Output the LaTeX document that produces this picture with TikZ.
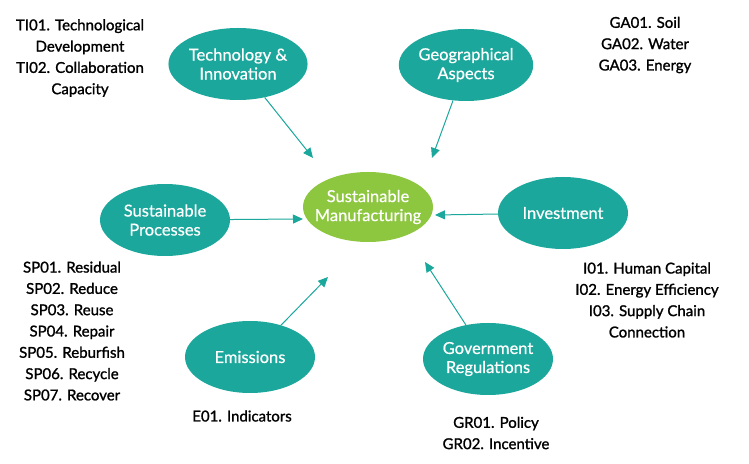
\documentclass[tikz,border=0pt]{standalone}
\usepackage{fontspec}
\setmainfont{Lato}
\newfontfamily\labfont{Lato}[RawFeature={embolden=1.3}]
\newfontfamily\bubfont{Lato}[RawFeature={embolden=0.6}]
\usetikzlibrary{shapes.geometric,arrows.meta}
\definecolor{teal1}{HTML}{1BA79B}
\definecolor{green1}{HTML}{8DC63F}
\begin{document}
\begin{tikzpicture}[x=1pt,y=1pt,
  bub/.style={ellipse,fill=teal1,draw=none,minimum width=130pt,minimum height=72pt,text=white,align=center,font=\bubfont\fontsize{16.5}{19}\selectfont,inner sep=0pt},
  lab/.style={align=center,font=\labfont\fontsize{15}{21.3}\selectfont,text=black,inner sep=0pt},
  arr/.style={draw=teal1,line width=1pt,-{Triangle[length=10pt,width=9pt]}}]
\useasboundingbox (0,0) rectangle (749,463);
\node[bub,fill=green1,minimum height=70pt,inner sep=-9pt] (sm) at (368,256) {Sustainable\\Manufacturing};
\node[bub] (ti) at (238,399) {Technology \&\\Innovation};
\node[bub] (ga) at (466,398) {Geographical\\Aspects};
\node[bub] (sp) at (165,243) {Sustainable\\Processes};
\node[bub] (inv) at (563,250) {Investment};
\node[bub] (em) at (250,106) {Emissions};
\node[bub] (gr) at (488,104) {Government\\Regulations};
\coordinate (tTI) at (313,305);
\coordinate (tGA) at (432,305);
\coordinate (tSP) at (303,244);
\coordinate (tIN) at (435,248);
\coordinate (tEM) at (328,186);
\coordinate (tGR) at (425,201);
\draw[arr] (ti) -- (tTI);
\draw[arr] (ga) -- (tGA);
\draw[arr] (sp) -- (tSP);
\draw[arr] (inv) -- (tIN);
\draw[arr] (em) -- (tEM);
\draw[arr] (gr) -- (tGR);
\node[lab] (tiL) at (80,405) {TI01. Technological\\Development\\TI02. Collaboration\\Capacity};
\node[lab] (gaL) at (645,418) {GA01. Soil\\GA02. Water\\GA03. Energy};
\node[lab] (spL) at (72,132) {SP01. Residual\\SP02. Reduce\\SP03. Reuse\\SP04. Repair\\SP05. Reburfish\\SP06. Recycle\\SP07. Recover};
\node[lab] (inL) at (647,163) {I01. Human Capital\\I02. Energy Efficiency\\I03. Supply Chain\\Connection};
\node[lab] (emL) at (242,47) {E01. Indicators};
\node[lab] (grL) at (496,30) {GR01. Policy\\GR02. Incentive};
\end{tikzpicture}
\end{document}
